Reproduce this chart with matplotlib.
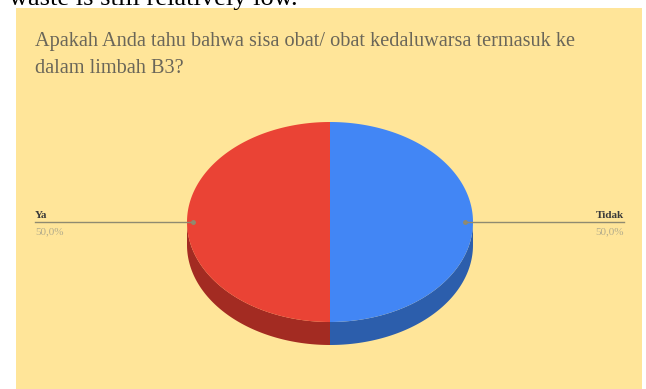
import numpy as np
import matplotlib
matplotlib.use("Agg")
import matplotlib.pyplot as plt
from matplotlib.patches import Rectangle, Polygon

# ---- data ----
categories = ["Tidak", "Ya"]
values = [50.0, 50.0]
pct_labels = ["50,0%", "50,0%"]
title_line1 = "Apakah Anda tahu bahwa sisa obat/ obat kedaluwarsa termasuk ke"
title_line2 = "dalam limbah B3?"
caption_above = "waste is still relatively low."

top_colors = ["#4286F5", "#EA4335"]
side_colors = ["#2C5EAC", "#A32B22"]

W, H = 646, 389
fig = plt.figure(figsize=(W / 100, H / 100), dpi=100)
fig.patch.set_facecolor("white")
ax = fig.add_axes([0, 0, 1, 1])
ax.set_xlim(0, W)
ax.set_ylim(H, 0)
ax.axis("off")

# panel background
ax.add_patch(Rectangle((16, 8), 626, 385, facecolor="#FFE599", edgecolor="none", zorder=0))

# cut-off text above the panel (as in the reference, only its lower part is visible)
ax.text(9, 4.5, caption_above, fontsize=19, family="Liberation Serif",
        color="black", va="baseline", ha="left", zorder=0.5)

# title
ax.text(35, 46, title_line1, fontsize=14.6, family="Liberation Serif",
        color="#6a6659", va="baseline", ha="left")
ax.text(35, 73, title_line2, fontsize=14.6, family="Liberation Serif",
        color="#6a6659", va="baseline", ha="left")

# 3D pie
cx, cy, a, b, depth = 330, 222, 143, 100, 23
total = sum(values)
fracs = np.array(values) / total
starts = np.concatenate([[0], np.cumsum(fracs)[:-1]]) * 360
ends = np.cumsum(fracs) * 360

def edge(theta_deg):
    t = np.radians(theta_deg)
    return cx + a * np.sin(t), cy - b * np.cos(t)

# sides (front half: 90..270 deg clockwise from top)
for s, e, c in zip(starts, ends, side_colors):
    lo, hi = max(s, 90), min(e, 270)
    if hi > lo:
        th = np.linspace(lo, hi, 100)
        xs, ys = edge(th)
        pts = np.vstack([np.column_stack([xs, ys]),
                         np.column_stack([xs[::-1], ys[::-1] + depth])])
        ax.add_patch(Polygon(pts, closed=True, facecolor=c, edgecolor="none", zorder=2))

# tops
for s, e, c in zip(starts, ends, top_colors):
    th = np.linspace(s, e, 200)
    xs, ys = edge(th)
    pts = np.vstack([[cx, cy], np.column_stack([xs, ys])])
    ax.add_patch(Polygon(pts, closed=True, facecolor=c, edgecolor="none", zorder=3))

# leader lines and labels
line_col = "#8f8a70"
for cat, pct, s, e in zip(categories, pct_labels, starts, ends):
    mid = (s + e) / 2
    x_edge, _ = edge(mid)
    if x_edge > cx:
        x_dot, x_end, ha = x_edge - 8, 624, "right"
    else:
        x_dot, x_end, ha = x_edge + 6, 35, "left"
    ax.plot([x_end, x_dot], [cy, cy], color=line_col, lw=1.0, zorder=4)
    ax.plot([x_dot], [cy], "o", color=line_col, ms=2.5, zorder=4)
    ax.text(x_end, cy - 4, cat, fontsize=8, family="Liberation Serif",
            fontweight="bold", color="#3a3a3a", ha=ha, va="baseline", zorder=5)
    ax.text(x_end, cy + 12, pct, fontsize=8, family="Liberation Serif",
            color="#b3ac8c", ha=ha, va="baseline", zorder=5)

fig.savefig("out.png", dpi=100, facecolor=fig.get_facecolor())
